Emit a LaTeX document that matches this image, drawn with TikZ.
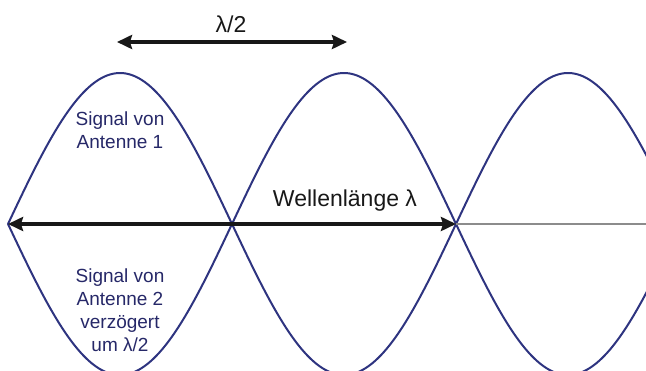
\documentclass[tikz,border=0pt]{standalone}
\usepackage{fontspec}
\setmainfont{Liberation Sans}
\usetikzlibrary{arrows.meta,positioning}
\definecolor{figWave}{RGB}{46,52,128}
\definecolor{figText}{RGB}{38,40,104}
\definecolor{figInk}{RGB}{24,24,24}
\definecolor{figAxis}{RGB}{140,140,140}

\begin{document}
\begin{tikzpicture}[
  x=1pt,
  y=-1pt,
  wave/.style={draw=figWave, line width=2pt},
  dimline/.style={{Stealth[length=15pt,width=14pt,inset=2pt]}-{Stealth[length=15pt,width=14pt,inset=2pt]}, draw=figInk, line width=3.4pt},
  axisline/.style={draw=figAxis, line width=1.2pt},
  signal/.style={font=\fontsize{19}{23}\selectfont, align=center, text=figText, inner sep=0pt},
  measure/.style={font=\fontsize{23}{27}\selectfont, text=figInk, inner sep=0pt, anchor=base}
]
\useasboundingbox (0,0) rectangle (646,371);
\clip (0,0) rectangle (646,371);

\coordinate (z0) at (8,224);
\coordinate (z1) at (232,224);
\coordinate (z2) at (456,224);
\coordinate (rim) at (646,224);
\coordinate (h0) at (117,42);
\coordinate (h1) at (347,42);

% the two antenna signals, half a wavelength apart
\draw[wave] plot[domain=8:650, samples=240, smooth] (\x, {224-151*sin((\x-8)/224*180)});
\draw[wave] plot[domain=8:650, samples=240, smooth] (\x, {224+151*sin((\x-8)/224*180)});

\draw[axisline] (z2) -- (rim);
\draw[dimline] (z0) -- (z2);
\draw[dimline] (h0) -- (h1);

\node[measure] (half) at (231,33) {λ/2};
\node[measure] (lambda) at (345,207) {Wellenlänge λ};
\node[signal] (ant1) at (120,130) {Signal von\\Antenne 1};
\node[signal] (ant2) at (120,310) {Signal von\\Antenne 2\\verzögert\\um λ/2};
\end{tikzpicture}
\end{document}
